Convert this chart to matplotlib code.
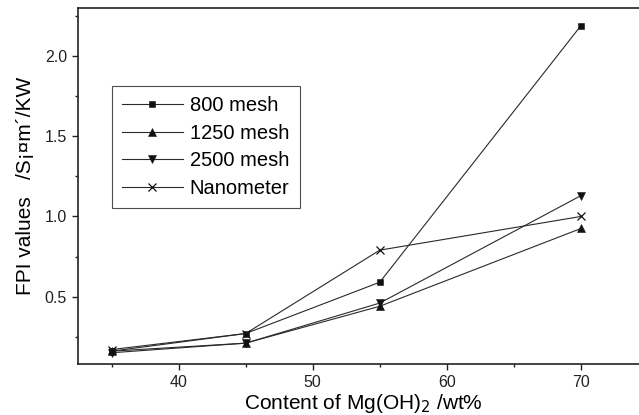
import matplotlib
matplotlib.use("Agg")
import matplotlib.pyplot as plt
from matplotlib.ticker import MultipleLocator

plt.rcParams['font.family'] = ['Liberation Sans', 'DejaVu Sans']

content = [35, 45, 55, 70]
mesh_800 = [0.16, 0.27, 0.59, 2.19]
mesh_1250 = [0.16, 0.21, 0.44, 0.925]
mesh_2500 = [0.15, 0.21, 0.46, 1.13]
nanometer = [0.17, 0.27, 0.79, 1.00]

series = [
    ("800 mesh", mesh_800, "s"),
    ("1250 mesh", mesh_1250, "^"),
    ("2500 mesh", mesh_2500, "v"),
    ("Nanometer", nanometer, "x"),
]

fig = plt.figure(figsize=(6.39, 4.15), dpi=100)
ax = fig.add_axes([78 / 639, 51 / 415, 570 / 639, 356 / 415])

for label, vals, mk in series:
    ax.plot(content, vals, color="#2a2a2a", lw=0.8, marker=mk,
            markersize=6 if mk in "^vx" else 5,
            markeredgewidth=0.9 if mk == "x" else 0.4,
            markerfacecolor="#111111", markeredgecolor="#111111", label=label)

ax.set_xlim(32.5, 75)
ax.set_ylim(0.08, 2.3)
ax.xaxis.set_major_locator(MultipleLocator(10))
ax.xaxis.set_minor_locator(MultipleLocator(5))
ax.yaxis.set_major_locator(MultipleLocator(0.5))
ax.yaxis.set_minor_locator(MultipleLocator(0.25))
ax.tick_params(which="both", direction="out", width=1.0, colors="#222222", labelsize=11.5)
ax.tick_params(which="major", length=4, pad=4)
ax.tick_params(which="minor", length=2.5)
for s in ax.spines.values():
    s.set_linewidth(1.2)
    s.set_color("#222222")

ax.set_xlabel("Content of Mg(OH)$_2$ /wt%", fontsize=15, labelpad=1)
ax.set_ylabel("FPI values   /S¡¤m\u00b4/KW", fontsize=15, labelpad=7)

leg = ax.legend(loc="upper left", bbox_to_anchor=(0.06, 0.78), fontsize=14.5,
                handlelength=3.0, numpoints=1, frameon=True, fancybox=False,
                borderpad=0.5, labelspacing=0.42, handletextpad=0.35,
                borderaxespad=0)
leg.get_frame().set_edgecolor("#222222")
leg.get_frame().set_linewidth(0.8)

fig.savefig("out.png", dpi=100)
